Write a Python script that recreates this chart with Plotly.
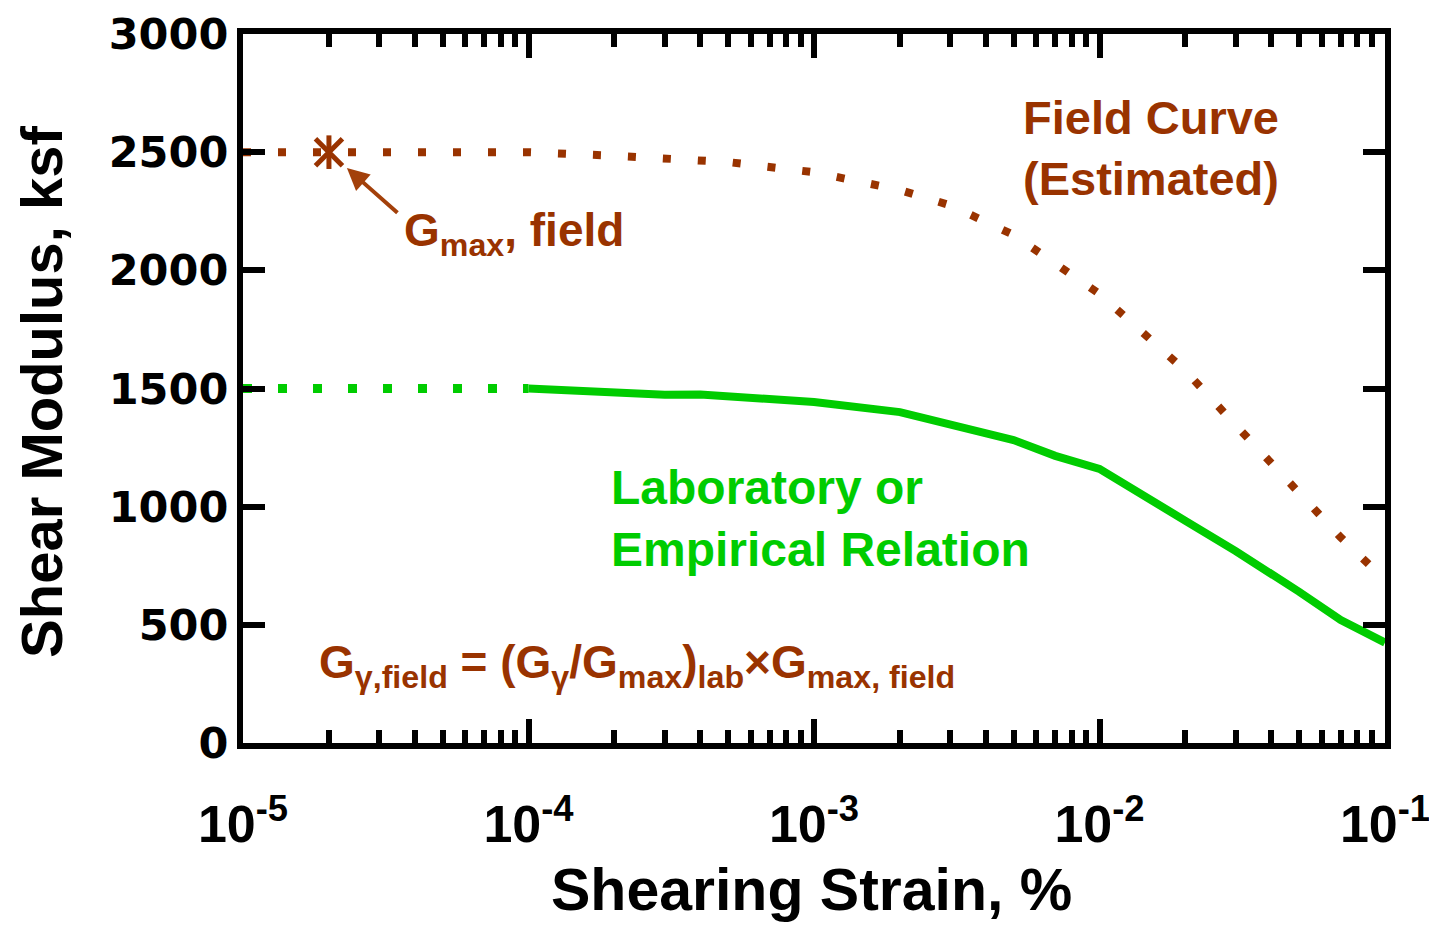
import plotly.graph_objects as go

# Shear modulus vs. shearing strain: laboratory curve and estimated field curve
BROWN = "#993300"
GREEN = "#00CC00"
FONT = "Liberation Sans, Arial, sans-serif"
TICK_FONT = "DejaVu Sans, Liberation Sans, sans-serif"

# Laboratory / empirical relation (solid part, strain in %)
lab_strain = [1e-4, 2e-4, 3e-4, 4e-4, 5e-4, 6e-4, 8e-4, 1e-3, 2e-3, 5e-3,
              7e-3, 1e-2, 2e-2, 3e-2, 5e-2, 7e-2, 1e-1]
lab_modulus = [1500, 1483, 1474, 1475, 1468, 1460, 1452, 1443, 1400, 1282,
               1215, 1160, 940, 812, 640, 520, 425]

# Extension of the laboratory curve toward small strains (dotted)
lab_ext_strain = [1e-5, 1e-4]
lab_ext_modulus = [1500, 1500]

# Estimated field curve (dotted)
field_strain = [1e-5, 1e-4, 2e-4, 3e-4, 5e-4, 1e-3, 2e-3, 3e-3, 5e-3,
                1e-2, 2e-2, 3e-2, 5e-2, 7e-2, 1e-1]
field_modulus = [2500, 2500, 2485, 2475, 2458, 2415, 2340, 2275, 2150,
                 1900, 1575, 1345, 1055, 870, 690]

# Measured field Gmax
gmax_strain = [2e-5]
gmax_value = [2500]

# Axis ticks
x_tickvals = [1e-5, 1e-4, 1e-3, 1e-2, 1e-1]
x_ticktext = ["10<sup>-5</sup>", "10<sup>-4</sup>", "10<sup>-3</sup>",
              "10<sup>-2</sup>", "10<sup>-1</sup>"]
x_minor = [m * 10.0 ** e for e in range(-5, -1) for m in range(2, 10)]
y_tickvals = [0, 500, 1000, 1500, 2000, 2500, 3000]

fig = go.Figure()

fig.add_trace(go.Scatter(
    x=lab_ext_strain, y=lab_ext_modulus, mode="lines",
    line=dict(color=GREEN, width=9, dash="9px,26px"),
    hoverinfo="skip", showlegend=False))
fig.add_trace(go.Scatter(
    x=lab_strain, y=lab_modulus, mode="lines",
    line=dict(color=GREEN, width=8),
    showlegend=False))
fig.add_trace(go.Scatter(
    x=field_strain, y=field_modulus, mode="lines",
    line=dict(color=BROWN, width=8, dash="8px,27px"),
    showlegend=False))

# Six-armed star marking the field Gmax
fig.add_trace(go.Scatter(
    x=gmax_strain, y=gmax_value, mode="markers",
    marker=dict(symbol="line-ns-open", size=24, color=BROWN,
                line=dict(color=BROWN, width=5)),
    showlegend=False))
fig.add_trace(go.Scatter(
    x=gmax_strain, y=gmax_value, mode="markers",
    marker=dict(symbol="x-thin-open", size=27, color=BROWN,
                line=dict(color=BROWN, width=5)),
    showlegend=False))

text_font = dict(family=FONT, weight="bold")

annotations = [
    dict(text="Shear Modulus, ksf", xref="paper", yref="paper",
         x=-0.177, y=0.495, xanchor="center", yanchor="middle", textangle=-90,
         showarrow=False, font=dict(size=58, color="black", **text_font)),
    dict(text="Shearing Strain, %", xref="paper", yref="paper",
         x=0.498, y=-0.208, xanchor="center", yanchor="middle",
         showarrow=False, font=dict(size=59, color="black", **text_font)),
    dict(text="Field Curve<br>(Estimated)", xref="paper", yref="paper",
         x=0.6815, y=0.839, xanchor="left", yanchor="middle", align="left",
         showarrow=False, font=dict(size=47, color=BROWN, **text_font)),
    dict(text="G<sub>max</sub>, field", xref="paper", yref="paper",
         x=0.139, y=0.719, xanchor="left", yanchor="middle", align="left",
         showarrow=False, font=dict(size=46, color=BROWN, **text_font)),
    dict(text="Laboratory or<br>Empirical Relation", xref="paper", yref="paper",
         x=0.3205, y=0.316, xanchor="left", yanchor="middle", align="left",
         showarrow=False, font=dict(size=48, color=GREEN, **text_font)),
    dict(text="G<sub>γ,field</sub> = (G<sub>γ</sub>/G<sub>max</sub>)<sub>lab</sub>"
              "×G<sub>max, field</sub>",
         xref="paper", yref="paper",
         x=0.0645, y=0.110, xanchor="left", yanchor="middle", align="left",
         showarrow=False, font=dict(size=46, color=BROWN, **text_font)),
    # Arrow pointing at the field Gmax star
    dict(text="", x=-4.699, y=2500, xref="x", yref="y",
         ax=70, ay=62, axref="pixel", ayref="pixel",
         showarrow=True, arrowhead=2, arrowsize=1.1, arrowwidth=4,
         arrowcolor="#A3400A", standoff=24),
]

fig.update_layout(
    width=1429, height=925,
    margin=dict(l=243, r=44, t=34, b=182, autoexpand=False),
    paper_bgcolor="white", plot_bgcolor="white",
    font=dict(family=FONT, color="black"),
    annotations=annotations,
    showlegend=False,
)

fig.update_xaxes(
    type="log", range=[-5, -1], automargin=False,
    showgrid=False, zeroline=False,
    showline=True, linewidth=6, linecolor="black", mirror="ticks",
    ticks="inside", ticklen=24, tickwidth=6, tickcolor="black",
    tickmode="array", tickvals=x_tickvals, ticktext=x_ticktext,
    tickfont=dict(size=52, color="black", **text_font),
    ticklabelstandoff=31, ticklabeloverflow="allow",
    minor=dict(tickmode="array", tickvals=x_minor, ticks="inside",
               ticklen=13, tickwidth=6, tickcolor="black", showgrid=False),
)
fig.update_yaxes(
    range=[0, 3000], automargin=False,
    showgrid=False, zeroline=False,
    showline=True, linewidth=6, linecolor="black", mirror="ticks",
    ticks="inside", ticklen=22, tickwidth=6, tickcolor="black",
    tickmode="array", tickvals=y_tickvals,
    tickfont=dict(size=43, color="black", family=TICK_FONT, weight="bold"),
)

fig.write_html("out.html")
